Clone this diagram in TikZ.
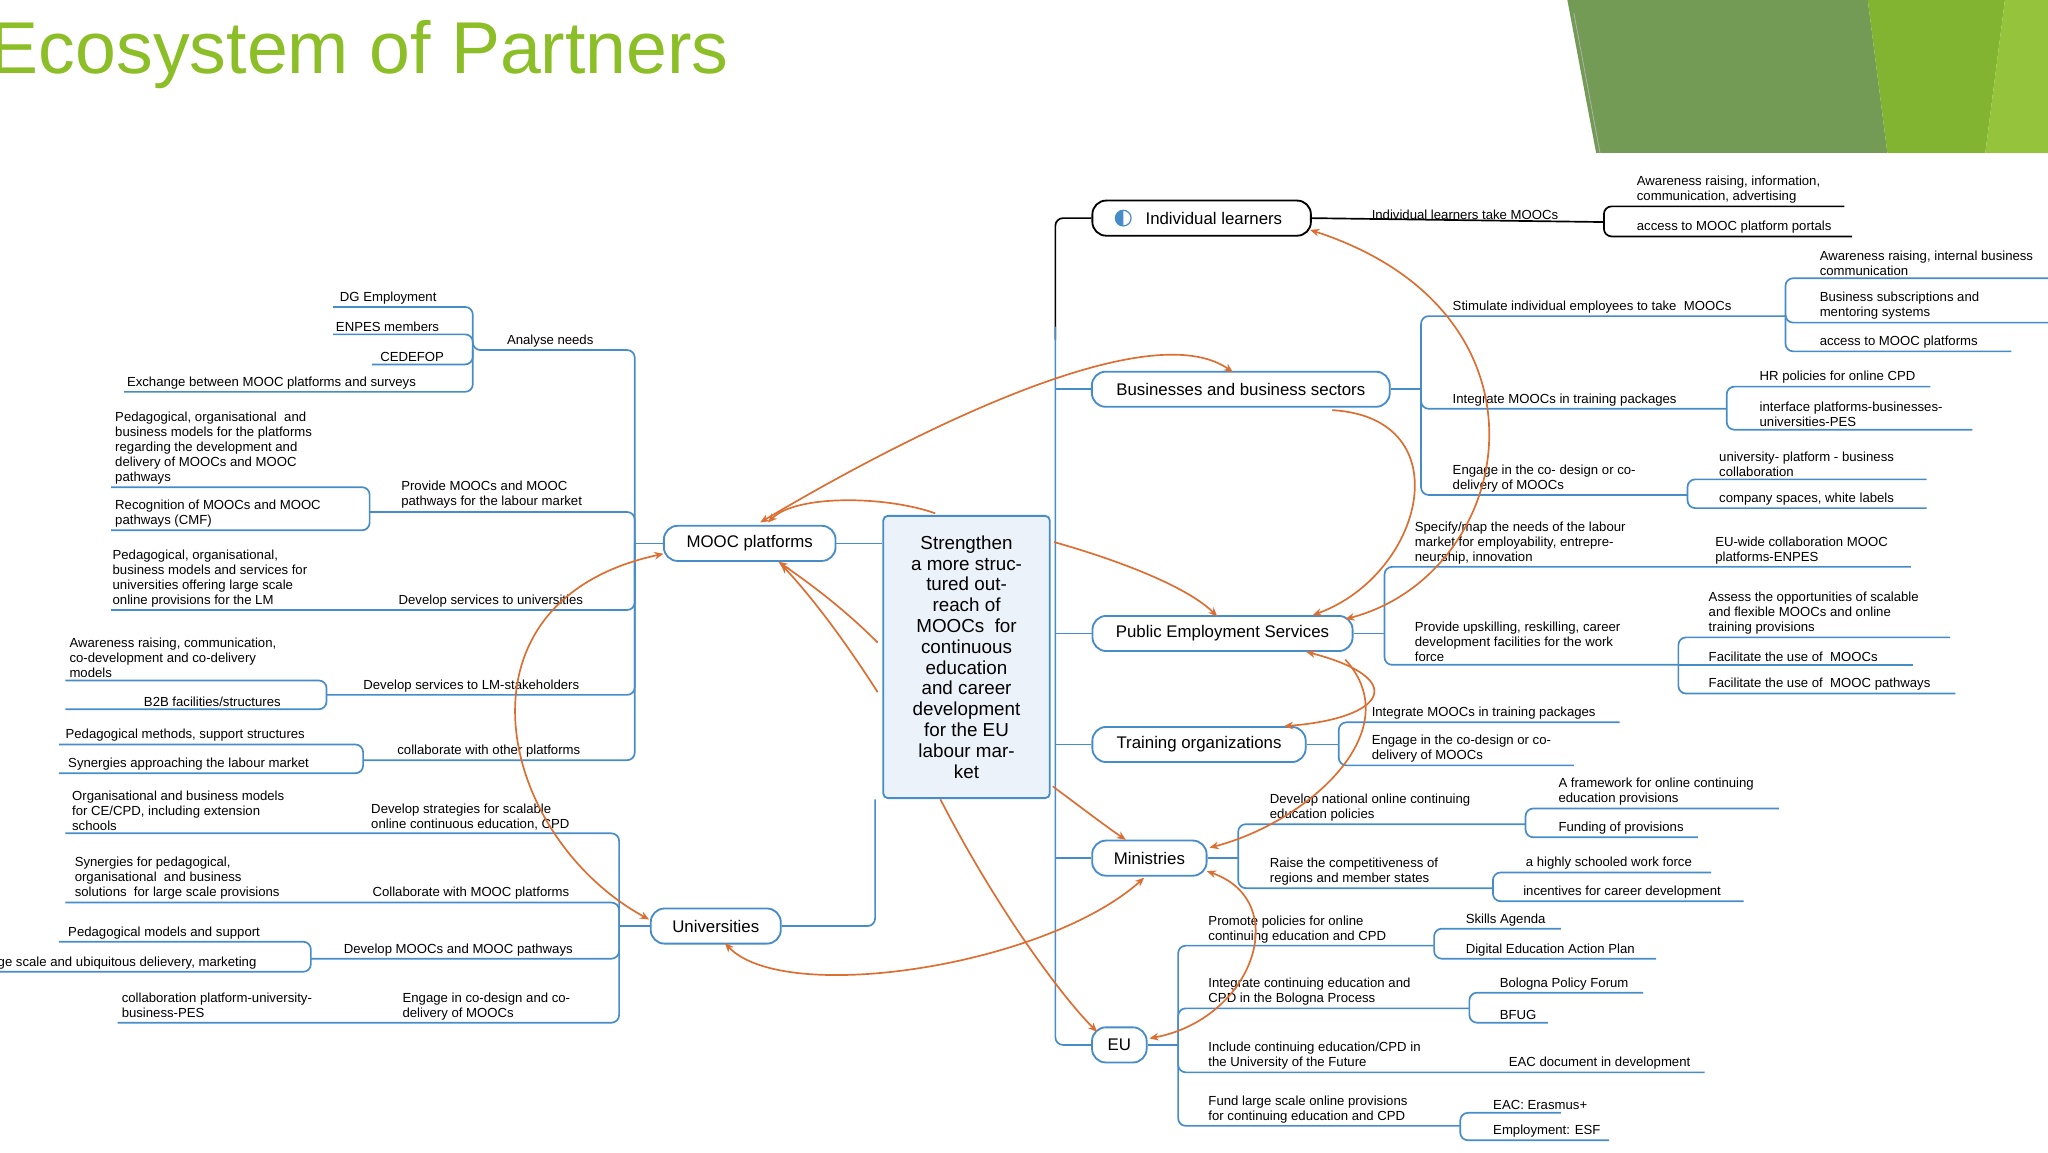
\documentclass[tikz,border=0pt]{standalone}
\usepackage{fontspec}
\setmainfont{Liberation Sans}
\usetikzlibrary{arrows.meta}
\definecolor{bl}{RGB}{70,140,200}
\definecolor{org}{RGB}{220,110,50}
\definecolor{ttl}{RGB}{140,190,40}
\definecolor{gA}{RGB}{115,155,85}
\definecolor{gB}{RGB}{130,180,50}
\definecolor{gC}{RGB}{150,195,60}
\definecolor{cbg}{RGB}{236,242,250}
\begin{document}
\begin{tikzpicture}[x=0.03cm,y=-0.03cm,
  lf/.style={font=\fontsize{8.6}{9.8}\selectfont,anchor=south west,inner sep=0,align=left},
  mn/.style={draw=bl,line width=1.2pt,rounded corners=9,fill=white,minimum height=27*0.85pt,font=\fontsize{11}{12}\selectfont,inner xsep=4pt},
  ln/.style={draw=bl,line width=1.1pt,rounded corners=5},
  kl/.style={draw=black,line width=1.1pt,rounded corners=5},
  ar/.style={draw=org,line width=1.1pt,-{Stealth[length=6pt,width=5pt]}},
  ab/.style={draw=org,line width=1.1pt,{Stealth[length=6pt,width=5pt]}-{Stealth[length=6pt,width=5pt]}}]
\useasboundingbox (0,0) rectangle (1568,882);
% decoration
\fill[gA] (1200,0) -- (1430,0) -- (1445,117) -- (1222,117) -- cycle;
\fill[gB] (1430,0) -- (1535,0) -- (1520,117) -- (1445,117) -- cycle;
\fill[gC] (1535,0) -- (1568,0) -- (1568,117) -- (1520,117) -- cycle;
\draw[gray!60,line width=0.5pt] (1205,10) -- (1225,117);
\node[anchor=west,inner sep=0,text=ttl,font=\fontsize{48}{54}\selectfont] (title) at (-8,42) {Ecosystem of Partners};

% central
\node[draw=bl,line width=1.2pt,fill=cbg,rounded corners=3,minimum width=128*0.85pt,minimum height=217*0.85pt,align=center,font=\fontsize{12.3}{13.6}\selectfont] (c) at (740,503) {Strengthen\\a more struc-\\tured out-\\reach of\\MOOCs\ \ for\\continuous\\education\\and career\\development\\for the EU\\labour mar-\\ket};

% main nodes
\node[mn,draw=black,minimum width=168*0.85pt] (il) at (920,167) {\hspace{16pt}Individual learners};
\draw[bl,line width=0.8pt] (860,167) circle (6);
\fill[bl] (860,167) -- ++(0,-6) arc[start angle=270,end angle=90,radius=6] -- cycle;
\node[mn,minimum width=229*0.85pt] (bs) at (950,298) {Businesses and business sectors};
\node[mn,minimum width=132*0.85pt] (mp) at (574,416) {MOOC platforms};
\node[mn,minimum width=200*0.85pt] (pes) at (936,485) {Public Employment Services};
\node[mn,minimum width=164*0.85pt] (to) at (918,570) {Training organizations};
\node[mn,minimum width=88*0.85pt] (mi) at (880,657) {Ministries};
\node[mn,minimum width=100*0.85pt] (un) at (548,709) {Universities};
\node[mn,minimum width=42*0.85pt] (eu) at (857,800) {EU};

% spine
\draw[kl] (il.west) -- (808,167) -- (808,260);
\draw[ln] (808,250) -- (808,800) -- (eu.west);
\foreach \n in {bs,pes,to,mi} \draw[ln] (808,0 |- \n.west) -- (\n.west);
\draw[ln] (c.west |- mp.east) -- (mp.east);
\draw[ln] (670,612) -- (670,709) -- (un.east);

% MOOC platforms branch
\draw[ln] (mp.west) -- (486,416);
\draw[ln] (486,416) -- (486,268) -- (385,268);
\draw[ln] (486,416) -- (486,392) -- (283,392);
\draw[ln] (486,416) -- (486,467) -- (85,467);
\draw[ln] (486,416) -- (486,532) -- (250,532);
\draw[ln] (486,416) -- (486,582) -- (278,582);
\node[lf] (an) at (388,266) {Analyse needs};
\draw[ln] (385,268) -- (362,268) -- (362,235) -- (255,235);
\draw[ln] (362,268) -- (362,256) -- (255,256);
\draw[ln] (362,268) -- (362,279) -- (285,279);
\draw[ln] (362,268) -- (362,300) -- (95,300);
\node[lf] (dg) at (260,233) {DG Employment};
\node[lf] (en) at (257,254) {ENPES members};
\node[lf] (ce) at (291,277) {CEDEFOP};
\node[lf] (ex) at (97,298) {Exchange between MOOC platforms and surveys};
\node[lf] (pm) at (307,389) {Provide MOOCs and MOOC\\pathways for the labour market};
\draw[ln] (283,392) -- (283,373) -- (85,373);
\draw[ln] (283,392) -- (283,406) -- (85,406);
\node[lf] (pe) at (88,371) {Pedagogical, organisational\ \ and\\business models for the platforms\\regarding the development and\\delivery of MOOCs and MOOC\\pathways};
\node[lf] (rc) at (88,404) {Recognition of MOOCs and MOOC\\pathways (CMF)};
\node[lf] (ds) at (305,465) {Develop services to universities};
\node[lf] (po) at (86,465) {Pedagogical, organisational,\\business models and services for\\universities offering large scale\\online provisions for the LM};
\node[lf] (dl) at (278,530) {Develop services to LM-stakeholders};
\draw[ln] (250,532) -- (250,521) -- (50,521);
\draw[ln] (250,532) -- (250,543) -- (50,543);
\node[lf] (aw) at (53,519) {Awareness raising, communication,\\co-development and co-delivery\\models};
\node[lf] (b2) at (110,541) {B2B facilities/structures};
\node[lf] (cp) at (304,580) {collaborate with other platforms};
\draw[ln] (278,582) -- (278,570) -- (45,570);
\draw[ln] (278,582) -- (278,592) -- (45,592);
\node[lf] (pd) at (50,568) {Pedagogical methods, support structures};
\node[lf] (sy) at (52,590) {Synergies approaching the labour market};

% Universities branch
\draw[ln] (un.west) -- (474,709);
\draw[ln] (474,709) -- (474,638) -- (50,638);
\draw[ln] (474,709) -- (474,691) -- (50,691);
\draw[ln] (474,709) -- (474,734) -- (238,734);
\draw[ln] (474,709) -- (474,783) -- (90,783);
\node[lf] (dv) at (284,636) {Develop strategies for scalable\\online continuous education, CPD};
\node[lf] (ob) at (55,636) {Organisational and business models\\for CE/CPD, including extension\\schools};
\node[lf] (cm) at (285,689) {Collaborate with MOOC platforms};
\node[lf] (sp) at (57,689) {Synergies for pedagogical,\\organisational\ \ and business\\solutions\ \ for large scale provisions};
\node[lf] (dm) at (263,732) {Develop MOOCs and MOOC pathways};
\draw[ln] (238,734) -- (238,721) -- (45,721);
\draw[ln] (238,734) -- (238,744) -- (0,744);
\node[lf] (pms) at (52,719) {Pedagogical models and support};
\node[lf] (ge) at (-2,742) {ge scale and ubiquitous delievery, marketing};
\node[lf] (eg) at (308,781) {Engage in co-design and co-\\delivery of MOOCs};
\node[lf] (cl) at (93,779) {collaboration platform-university-\\business-PES};

% Individual learners branch
\draw[kl] (il.east) -- (1228,170);
\draw[kl] (1228,170) -- (1228,158) -- (1412,158);
\draw[kl] (1228,170) -- (1228,181) -- (1418,181);
\node[lf] (it) at (1050,168) {Individual learners take MOOCs};
\node[lf] (ar1) at (1253,156) {Awareness raising, information,\\communication, advertising};
\node[lf] (ac) at (1253,179) {access to MOOC platform portals};

% Businesses branch
\draw[ln] (bs.east) -- (1088,298);
\draw[ln] (1088,298) -- (1088,242) -- (1367,242);
\draw[ln] (1088,298) -- (1088,313) -- (1322,313);
\draw[ln] (1088,298) -- (1088,379) -- (1292,379);
\node[lf] (st) at (1112,240) {Stimulate individual employees to take\ \ MOOCs};
\draw[ln] (1367,242) -- (1367,213) -- (1568,213);
\draw[ln] (1367,242) -- (1367,247) -- (1568,247);
\draw[ln] (1367,242) -- (1367,269) -- (1540,269);
\node[lf] (air) at (1393,211) {Awareness raising, internal business\\communication};
\node[lf] (bsu) at (1393,245) {Business subscriptions and\\mentoring systems};
\node[lf] (amp) at (1393,267) {access to MOOC platforms};
\node[lf] (im) at (1112,311) {Integrate MOOCs in training packages};
\draw[ln] (1322,313) -- (1322,296) -- (1478,296);
\draw[ln] (1322,313) -- (1322,329) -- (1510,329);
\node[lf] (hr) at (1347,294) {HR policies for online CPD};
\node[lf] (ifp) at (1347,327) {interface platforms-businesses-\\universities-PES};
\node[lf] (ec) at (1112,377) {Engage in the co- design or co-\\delivery of MOOCs};
\draw[ln] (1292,379) -- (1292,367) -- (1475,367);
\draw[ln] (1292,379) -- (1292,389) -- (1475,389);
\node[lf] (upb) at (1316,365) {university- platform - business\\collaboration};
\node[lf] (csw) at (1316,387) {company spaces, white labels};

% PES branch
\draw[ln] (pes.east) -- (1060,485);
\draw[ln] (1060,485) -- (1060,434) -- (1463,434);
\draw[ln] (1060,485) -- (1060,509) -- (1285,509);
\node[lf] (sm) at (1083,432) {Specify/map the needs of the labour\\market for employability, entrepre-\\neurship, innovation};
\node[lf] (euw) at (1313,432) {EU-wide collaboration MOOC\\platforms-ENPES};
\node[lf] (pu) at (1083,507) {Provide upskilling, reskilling, career\\development facilities for the work\\force};
\draw[ln] (1285,509) -- (1285,488) -- (1493,488);
\draw[ln] (1285,509) -- (1285,531) -- (1497,531);
\draw[ln] (1285,509) -- (1465,509);
\node[lf] (ass) at (1308,486) {Assess the opportunities of scalable\\and flexible MOOCs and online\\training provisions};
\node[lf] (fm) at (1308,507) {Facilitate the use of\ \ MOOCs};
\node[lf] (fp) at (1308,529) {Facilitate the use of\ \ MOOC pathways};

% Training organizations branch
\draw[ln] (to.east) -- (1025,570);
\draw[ln] (1025,570) -- (1025,553) -- (1240,553);
\draw[ln] (1025,570) -- (1025,586) -- (1205,586);
\node[lf] (itp) at (1050,551) {Integrate MOOCs in training packages};
\node[lf] (ecd) at (1050,584) {Engage in the co-design or co-\\delivery of MOOCs};

% Ministries branch
\draw[ln] (mi.east) -- (948,657);
\draw[ln] (948,657) -- (948,631) -- (1168,631);
\draw[ln] (948,657) -- (948,680) -- (1143,680);
\node[lf] (dn) at (972,629) {Develop national online continuing\\education policies};
\draw[ln] (1168,631) -- (1168,619) -- (1362,619);
\draw[ln] (1168,631) -- (1168,641) -- (1300,641);
\node[lf] (fw) at (1193,617) {A framework for online continuing\\education provisions};
\node[lf] (fop) at (1193,639) {Funding of provisions};
\node[lf] (rcm) at (972,678) {Raise the competitiveness of\\regions and member states};
\draw[ln] (1143,680) -- (1143,668) -- (1310,668);
\draw[ln] (1143,680) -- (1143,690) -- (1335,690);
\node[lf] (hs) at (1168,666) {a highly schooled work force};
\node[lf] (icd) at (1166,688) {incentives for career development};

% EU branch
\draw[ln] (eu.east) -- (902,800);
\draw[ln] (902,800) -- (902,724) -- (1098,724);
\draw[ln] (902,800) -- (902,772) -- (1125,772);
\draw[ln] (902,800) -- (902,821) -- (1305,821);
\draw[ln] (902,800) -- (902,862) -- (1118,862);
\node[lf] (pp) at (925,722) {Promote policies for online\\continuing education and CPD};
\draw[ln] (1098,724) -- (1098,711) -- (1195,711);
\draw[ln] (1098,724) -- (1098,734) -- (1268,734);
\node[lf] (sa) at (1122,709) {Skills Agenda};
\node[lf] (de) at (1122,732) {Digital Education Action Plan};
\node[lf] (ib) at (925,770) {Integrate continuing education and\\CPD in the Bologna Process};
\draw[ln] (1125,772) -- (1125,760) -- (1258,760);
\draw[ln] (1125,772) -- (1125,783) -- (1185,783);
\node[lf] (bpf) at (1148,758) {Bologna Policy Forum};
\node[lf] (bf) at (1148,781) {BFUG};
\node[lf] (inc) at (925,819) {Include continuing education/CPD in\\the University of the Future};
\node[lf] (eac) at (1155,819) {EAC document in development};
\node[lf] (fl) at (925,860) {Fund large scale online provisions\\for continuing education and CPD};
\draw[ln] (1118,862) -- (1118,852) -- (1195,852);
\draw[ln] (1118,862) -- (1118,873) -- (1232,873);
\node[lf] (er) at (1143,850) {EAC: Erasmus+};
\node[lf] (esf) at (1143,871) {Employment: ESF};

% orange relations
\draw[ab] (582,400) .. controls (700,330) and (880,240) .. (944,285);
\draw[ar] (716,393) .. controls (680,380) and (610,378) .. (588,400);
\draw[ar] (807,415) .. controls (860,430) and (910,450) .. (932,472);
\draw[ar] (672,492) .. controls (640,460) and (610,440) .. (596,430);
\draw[ar] (672,530) .. controls (640,480) and (615,450) .. (598,432);
\draw[ar] (720,612) .. controls (760,690) and (810,760) .. (840,790);
\draw[ar] (806,602) .. controls (830,620) and (850,635) .. (862,643);
\draw[ab] (497,704) .. controls (380,640) and (340,460) .. (508,424);
\draw[ab] (555,722) .. controls (600,770) and (800,740) .. (876,672);
\draw[ab] (1003,176) .. controls (1200,240) and (1160,440) .. (1030,474);
\draw[ar] (1020,314) .. controls (1120,320) and (1090,440) .. (1005,471);
\draw[ab] (1000,499) .. controls (1080,520) and (1060,550) .. (983,556);
\draw[ar] (1030,505) .. controls (1080,560) and (1000,630) .. (926,649);
\draw[ab] (924,667) .. controls (990,690) and (960,780) .. (880,795);
\end{tikzpicture}
\end{document}
